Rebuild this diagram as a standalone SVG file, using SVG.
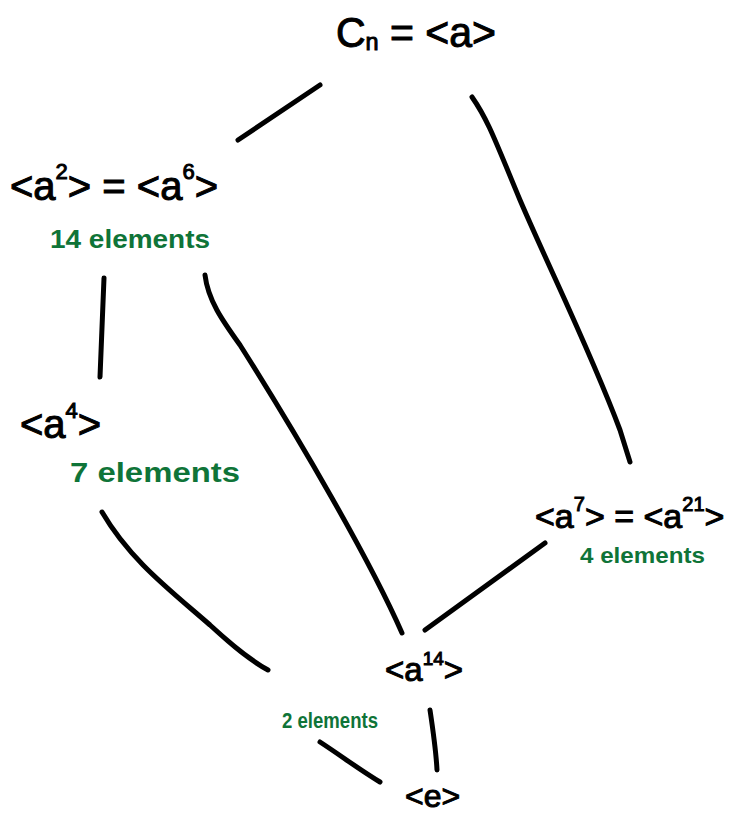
<svg xmlns="http://www.w3.org/2000/svg" width="730" height="813" viewBox="0 0 730 813">
<style>
.lbl{font-family:"Liberation Sans",Arial,sans-serif;fill:#000;stroke:#000;stroke-width:1;}
.cnt{font-family:"Liberation Sans",Arial,sans-serif;font-weight:bold;fill:#0f7438;}
.edge{fill:none;stroke:#000;stroke-width:5;stroke-linecap:round;stroke-linejoin:round;}
</style>
<rect width="730" height="813" fill="#fff"/>
<g id="connectors">
<path class="edge" d="M320,85 L238,140"/>
<path class="edge" d="M472,97 C488,120 495,140 520,200 C550,270 590,350 620,430 L630,462"/>
<path class="edge" d="M104,278 L100,377"/>
<path class="edge" d="M205,275 C208,300 222,320 240,345 C300,440 370,560 402,633"/>
<path class="edge" d="M102,512 C130,560 170,590 210,625 C235,648 250,660 268,670"/>
<path class="edge" d="M545,543 L425,630"/>
<path class="edge" d="M430,710 C433,730 436,750 437,770"/>
<path class="edge" d="M320,742 C340,755 360,770 380,782"/>
</g>
<g id="node-top">
<text class="lbl" x="336" y="47" font-size="42" textLength="160" lengthAdjust="spacingAndGlyphs">C<tspan font-size="24" dy="3">n</tspan><tspan dy="-3"> = &lt;a&gt;</tspan></text>
</g>
<g id="node-a2">
<text class="lbl" x="10" y="200" font-size="40">&lt;a<tspan font-size="22" dy="-21">2</tspan><tspan dy="21">&gt; = &lt;a</tspan><tspan font-size="22" dy="-21">6</tspan><tspan dy="21">&gt;</tspan></text>
<text class="cnt" x="50" y="248" font-size="25" textLength="160" lengthAdjust="spacingAndGlyphs">14 elements</text>
</g>
<g id="node-a4">
<text class="lbl" x="20" y="438" font-size="40">&lt;a<tspan font-size="22" dy="-20">4</tspan><tspan dy="20">&gt;</tspan></text>
<text class="cnt" x="70" y="482" font-size="27" textLength="170" lengthAdjust="spacingAndGlyphs">7 elements</text>
</g>
<g id="node-a7">
<text class="lbl" x="535" y="528" font-size="34">&lt;a<tspan font-size="20" dy="-17">7</tspan><tspan dy="17">&gt; = &lt;a</tspan><tspan font-size="20" dy="-17">21</tspan><tspan dy="17">&gt;</tspan></text>
<text class="cnt" x="580" y="563" font-size="22" textLength="125" lengthAdjust="spacingAndGlyphs">4 elements</text>
</g>
<g id="node-a14">
<text class="lbl" x="385" y="681" font-size="33">&lt;a<tspan font-size="19" dy="-16">14</tspan><tspan dy="16">&gt;</tspan></text>
<text class="cnt" x="282" y="728" font-size="22" textLength="96" lengthAdjust="spacingAndGlyphs">2 elements</text>
</g>
<g id="node-e">
<text class="lbl" x="405" y="807" font-size="32">&lt;e&gt;</text>
</g>
</svg>
